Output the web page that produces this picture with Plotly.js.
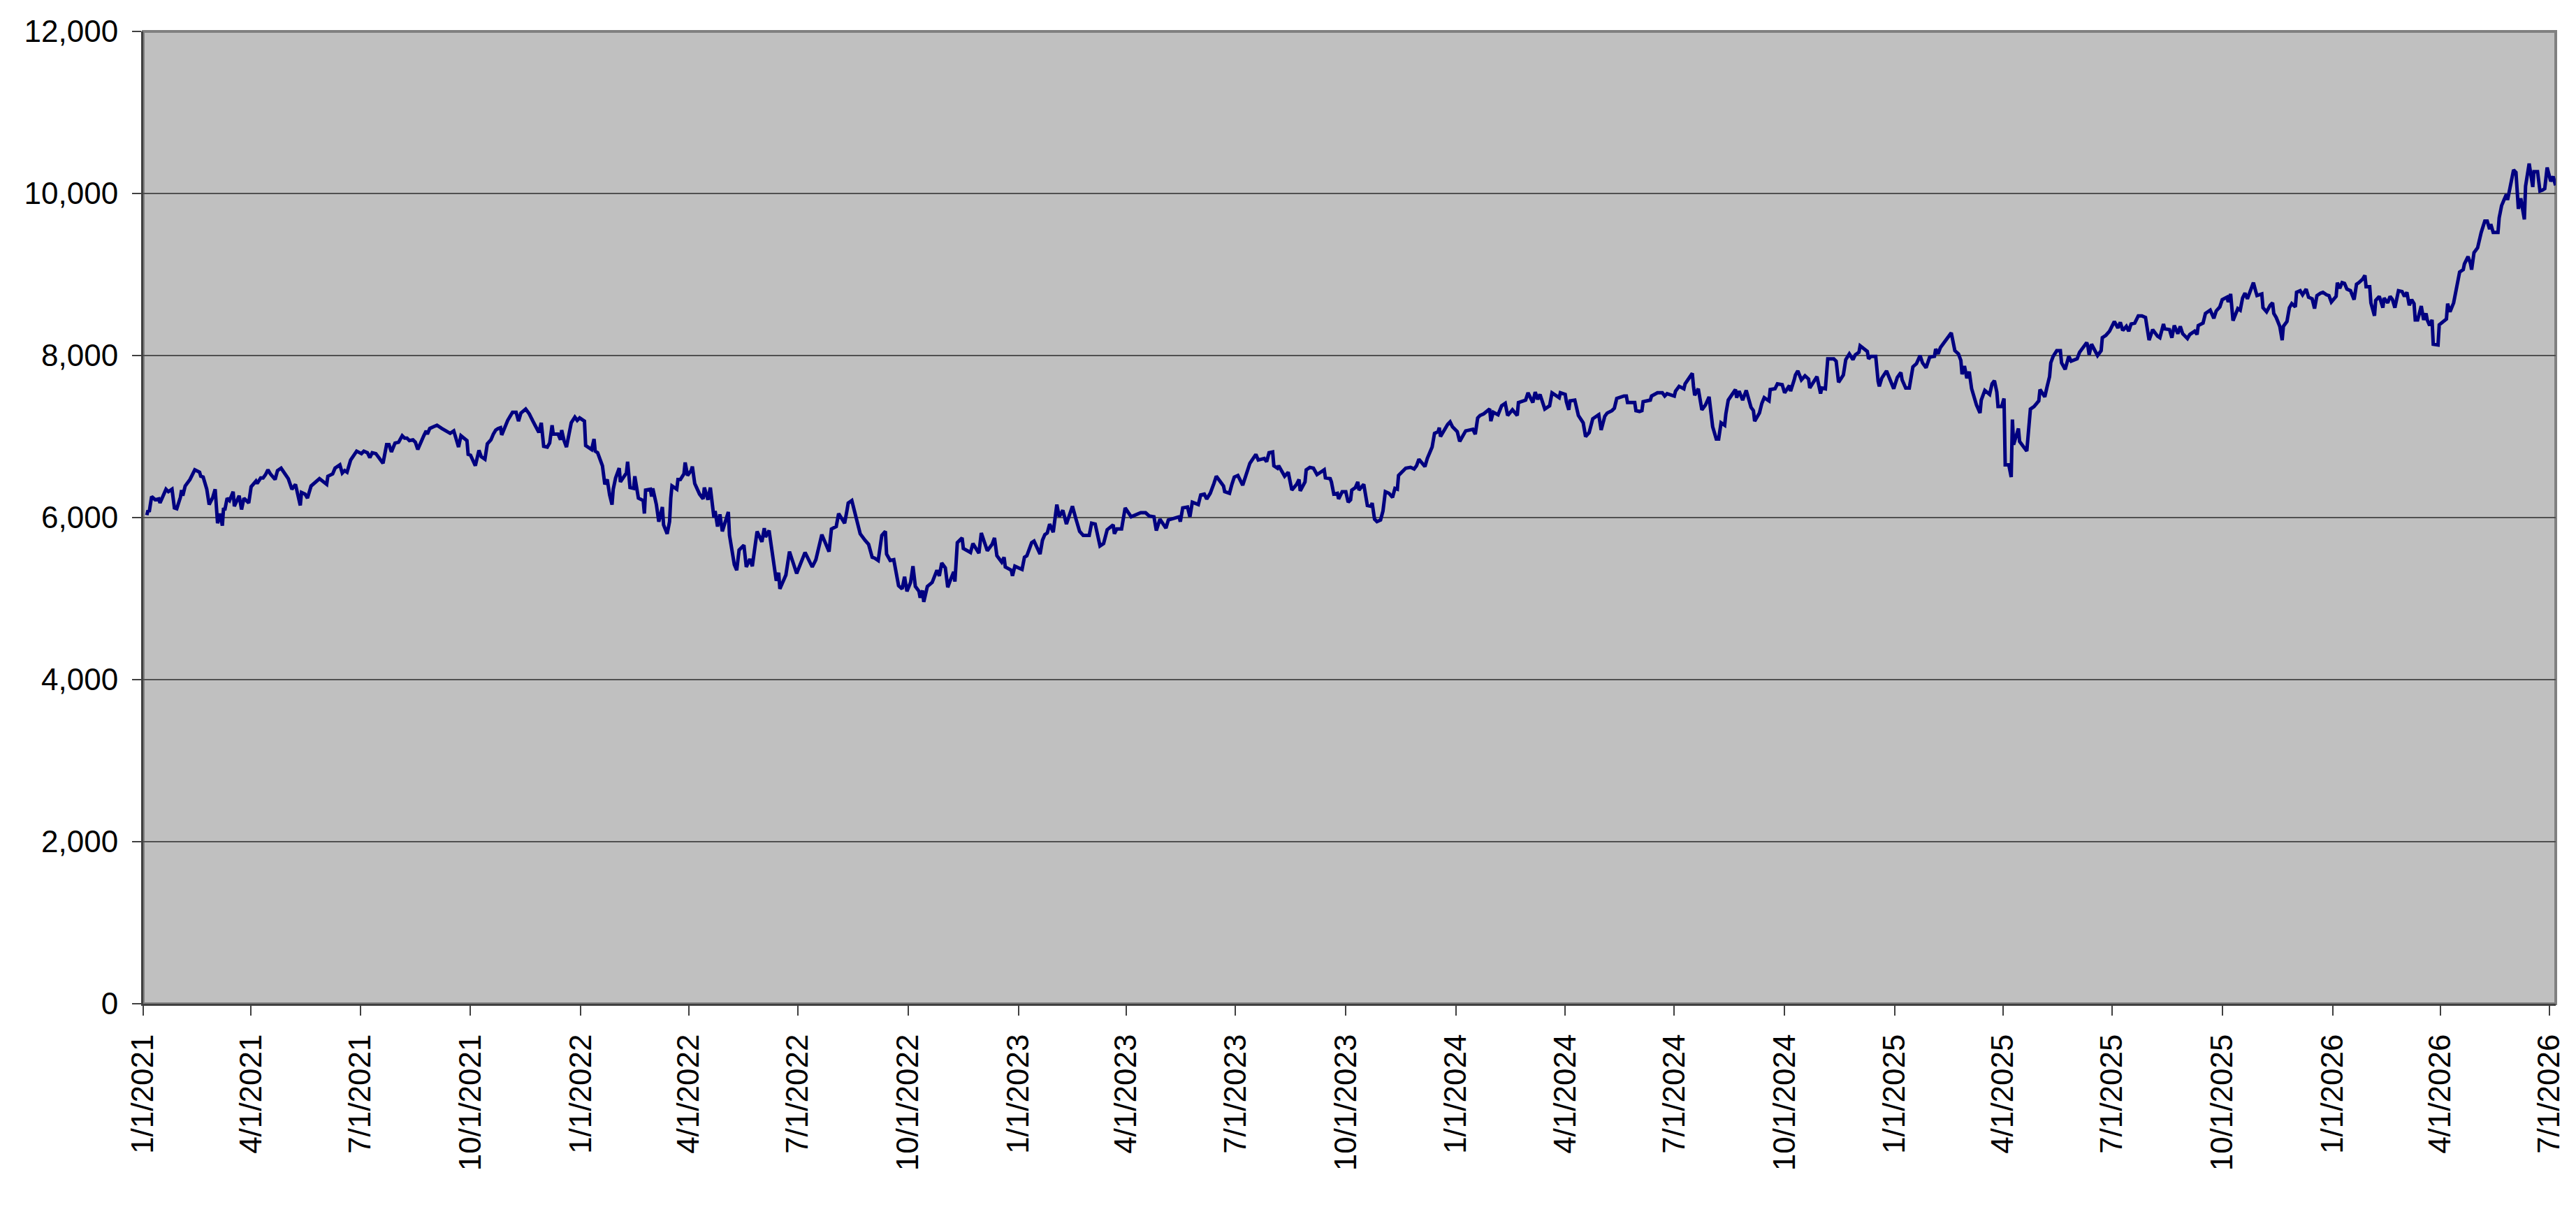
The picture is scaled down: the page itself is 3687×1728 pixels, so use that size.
<!DOCTYPE html>
<html>
<head>
<meta charset="utf-8">
<script src="https://cdn.plot.ly/plotly-3.0.1.min.js"></script>
<style>
  html, body { margin: 0; padding: 0; background: #ffffff; }
  #chart { width: 3687px; height: 1728px; }
</style>
</head>
<body>
<div id="chart"></div>
<script>
// Start date of the series; each day offset below counts calendar days from it.
const startDate = '2021-01-01';

// Segment 1 (Jan 2021 - Oct 2021)
const days1 = [3,4,5,7,10,13,14,17,19,21,24,26,28,31,32,33,35,39,43,47,48,50,53,55,58,60,62,64,66,67,68,70,72,75,76,80,82,84,88,90,94,95,98,100,102,104,106,110,112,115,118,121,124,127,131,132,135,137,140,144,147,153,154,158,160,164,166,168,170,173,178,182,184,187,189,191,194,197,200,203,205,207,210,213,216,218,220,222,225,227,229,234,236,237,239,242,245,249,254,256,259,261,263,265,270,271,273,277,280,282,285,287,290,292,294,296,298,299,301,304];
const vals1 = [6030,6090,6070,6260,6220,6230,6180,6280,6350,6320,6350,6120,6110,6250,6340,6270,6390,6470,6590,6560,6510,6500,6350,6160,6250,6350,5930,6050,5900,6120,6090,6240,6210,6320,6140,6270,6100,6240,6180,6380,6450,6420,6490,6490,6530,6590,6540,6470,6580,6610,6540,6480,6350,6410,6150,6310,6290,6240,6390,6450,6480,6410,6510,6540,6610,6650,6550,6580,6560,6710,6820,6790,6820,6800,6740,6800,6790,6730,6670,6900,6900,6810,6920,6930,7010,6980,6980,6950,6960,6930,6840,7010,7070,7030,7100,7120,7140,7100,7050,7040,7070,6950,6870,7010,6950,6780,6770,6640,6830,6750,6720,6910,6960,7030,7080,7100,7110,7020,7100,7200];

// Segment 2 (Nov 2021 - Aug 2022)
const days2 = [308,311,313,315,319,322,325,330,332,334,337,339,341,342,346,348,349,351,353,355,357,360,362,364,368,369,374,376,377,379,383,385,387,389,391,392,394,397,398,403,404,406,409,410,413,417,418,419,423,424,425,428,430,433,434,437,439,440,441,445,446,448,451,452,454,457,458,460,464,467,468,471,473,476,477,479,481,483,488,489,493,495,497,501,503,506,508,512,516,518,519,522,525,528,530,531,536,539,545,552,558,561,566,572,574,578,580,585,587,588,591,593,595,598,602,605,608];
const vals2 = [7300,7300,7190,7290,7340,7280,7190,7050,7170,6880,6870,6920,7140,7030,7030,6960,7080,6950,6870,7050,7170,7240,7200,7230,7190,6890,6840,6970,6820,6800,6640,6410,6470,6280,6160,6350,6490,6610,6440,6550,6690,6370,6360,6510,6240,6210,6050,6340,6350,6260,6360,6160,5950,6130,5910,5800,5950,6240,6390,6350,6470,6470,6540,6680,6520,6580,6630,6420,6290,6230,6370,6220,6370,6000,6080,5890,6040,5830,6070,5780,5420,5350,5600,5660,5390,5490,5400,5830,5700,5870,5760,5840,5520,5220,5320,5120,5290,5580,5310,5570,5390,5480,5790,5580,5860,5890,6050,5930,6090,6180,6210,6090,5960,5800,5720,5670,5510];

// Segment 3 (Sep 2022 - Jun 2023)
const days3 = [610,613,616,619,620,623,626,630,633,635,637,640,642,644,647,648,650,651,654,658,662,664,666,669,671,673,676,677,679,683,684,690,692,697,699,704,708,710,712,716,718,719,724,725,727,733,735,737,741,743,748,750,752,754,756,759,762,764,767,770,772,775,778,781,784,789,791,794,798,801,804,809,810,812,816,819,824,828,832,836,839,843,845,848,853,855,864,865,867,871,873,875,880,882,885,887,890,893,895,898,901,902];
const vals3 = [5500,5470,5780,5830,5550,5470,5480,5160,5120,5270,5090,5200,5400,5150,5090,5010,5100,4960,5150,5200,5350,5280,5440,5380,5140,5220,5330,5210,5690,5750,5620,5570,5680,5560,5810,5590,5670,5750,5530,5450,5510,5390,5350,5280,5400,5360,5510,5530,5690,5710,5550,5720,5790,5810,5920,5820,6160,6010,6090,5920,6010,6140,5980,5830,5780,5780,5930,5920,5650,5680,5850,5910,5800,5860,5860,6120,6010,6030,6060,6060,6020,6010,5840,5980,5870,5970,6010,5950,6120,6130,6010,6190,6160,6280,6290,6230,6300,6420,6510,6450,6390,6320];

// Segment 4 (Jun 2023 - Apr 2024)
const days4 = [906,908,910,913,917,919,923,928,930,935,937,939,942,943,946,947,950,952,955,958,962,964,965,969,970,973,976,979,984,985,986,990,991,993,996,997,1000,1003,1005,1007,1008,1011,1013,1014,1018,1021,1024,1025,1027,1029,1032,1034,1036,1039,1042,1044,1046,1047,1053,1057,1060,1062,1064,1069,1071,1075,1077,1080,1081,1082,1088,1090,1092,1096,1098,1100,1103,1109,1111,1113,1115,1118,1121,1123,1124,1126,1130,1133,1136,1138,1142,1146,1147,1153,1155,1159,1161,1163,1165,1169,1173,1175,1181,1182,1186,1187,1189,1190,1194,1196,1197,1201,1203,1206,1209];
const vals4 = [6300,6410,6500,6520,6400,6490,6670,6780,6710,6730,6690,6800,6810,6640,6610,6640,6550,6510,6560,6340,6410,6470,6330,6440,6590,6620,6610,6530,6580,6590,6490,6480,6440,6290,6300,6230,6320,6320,6190,6220,6340,6370,6440,6340,6410,6150,6140,6180,5980,5950,5970,6080,6320,6300,6250,6360,6350,6520,6610,6620,6600,6640,6720,6630,6730,6870,7040,7060,7110,7000,7150,7180,7120,7060,6940,7000,7070,7090,7030,7230,7260,7280,7310,7340,7190,7300,7270,7380,7410,7260,7330,7260,7420,7450,7540,7420,7550,7460,7520,7340,7380,7540,7480,7540,7520,7430,7330,7440,7450,7330,7260,7170,7000,7050,7220];

// Segment 5 (Apr 2024 - Feb 2025)
const days5 = [1212,1214,1216,1219,1221,1225,1227,1229,1235,1237,1238,1244,1245,1248,1250,1251,1257,1258,1263,1267,1269,1271,1277,1278,1281,1285,1286,1288,1292,1293,1294,1297,1300,1303,1306,1309,1312,1314,1316,1319,1320,1322,1324,1326,1328,1329,1331,1334,1337,1341,1343,1344,1348,1350,1352,1356,1357,1361,1363,1367,1369,1373,1374,1377,1378,1380,1383,1386,1389,1390,1393,1396,1399,1400,1403,1405,1410,1412,1414,1417,1418,1420,1423,1426,1428,1431,1432,1438,1439,1441,1445,1447,1448,1450,1454,1457,1460,1463,1466,1467,1470,1473,1475,1476,1479,1482,1484,1487,1490,1494,1495,1497,1499,1503,1505,1508,1511,1514,1516,1517];
const vals5 = [7250,7270,7080,7250,7290,7320,7350,7470,7500,7500,7420,7420,7320,7310,7320,7430,7450,7500,7540,7540,7500,7530,7500,7560,7620,7590,7650,7690,7780,7620,7510,7590,7330,7390,7490,7120,6970,6970,7170,7140,7280,7450,7500,7550,7580,7480,7560,7450,7570,7360,7320,7190,7290,7410,7480,7440,7580,7590,7650,7640,7540,7630,7560,7700,7760,7810,7700,7750,7710,7600,7680,7740,7530,7600,7590,7960,7960,7930,7670,7730,7760,7950,8020,7950,8010,8040,8120,8050,7960,7990,7990,7680,7620,7720,7810,7700,7590,7730,7790,7700,7600,7600,7760,7860,7900,8000,7910,7850,7980,7990,8080,8020,8100,8180,8230,8280,8060,8020,7940,7770];

// Segment 6 (Feb 2025 - Dec 2025)
const days6 = [1519,1521,1523,1525,1529,1532,1533,1536,1540,1542,1544,1546,1547,1550,1552,1553,1556,1558,1559,1560,1564,1565,1571,1573,1574,1577,1581,1582,1586,1588,1590,1591,1593,1596,1599,1600,1603,1606,1608,1613,1615,1621,1622,1623,1625,1630,1633,1634,1637,1640,1642,1644,1647,1649,1651,1654,1656,1658,1661,1664,1667,1670,1673,1676,1680,1682,1685,1686,1690,1692,1694,1697,1699,1701,1705,1707,1711,1713,1714,1718,1720,1724,1727,1729,1732,1734,1738,1739,1741,1743,1747,1749,1751,1753,1755,1758,1760,1762,1763,1767,1768,1771,1774,1776,1777,1779,1782,1784,1785,1788,1790,1792,1795,1796,1799,1801,1804,1806,1809,1811,1813,1816,1818,1821];
const vals6 = [7870,7720,7800,7590,7390,7290,7450,7570,7520,7650,7690,7550,7370,7370,7470,6650,6650,6500,7210,6900,7100,6940,6820,7120,7340,7370,7440,7580,7490,7620,7740,7910,7990,8060,8060,7910,7830,7990,7930,7960,8040,8160,8110,8010,8140,8000,8060,8220,8250,8300,8350,8420,8340,8410,8310,8360,8300,8390,8400,8490,8490,8470,8190,8320,8240,8220,8390,8330,8320,8220,8370,8270,8360,8270,8210,8260,8300,8260,8370,8400,8520,8560,8460,8550,8600,8690,8720,8660,8760,8430,8580,8560,8710,8770,8700,8840,8900,8790,8740,8760,8590,8540,8620,8650,8520,8470,8360,8190,8360,8420,8590,8640,8600,8780,8800,8750,8820,8720,8700,8580,8740,8770,8780,8750];

// Segment 7 (Jan 2026 - Jul 2026)
const days7 = [1823,1825,1829,1830,1832,1834,1836,1838,1841,1844,1846,1848,1851,1853,1854,1857,1858,1861,1862,1865,1868,1869,1872,1874,1876,1878,1881,1884,1886,1888,1890,1892,1894,1895,1897,1900,1902,1904,1905,1907,1909,1910,1914,1915,1918,1921,1922,1924,1927,1929,1932,1935,1936,1939,1941,1942,1944,1947,1950,1953,1955,1957,1958,1960,1964,1965,1967,1969,1971,1972,1974,1977,1979,1981,1983,1986,1987,1990,1993,1994,1997,1999,2001,2003,2005,2008,2010,2012];
const vals7 = [8740,8660,8730,8900,8830,8900,8890,8820,8800,8690,8880,8900,8940,8990,8850,8850,8650,8490,8680,8730,8590,8710,8650,8730,8690,8590,8800,8790,8730,8780,8620,8690,8640,8440,8440,8610,8440,8520,8440,8370,8440,8140,8130,8380,8410,8450,8640,8540,8650,8820,9030,9060,9130,9220,9140,9060,9270,9330,9520,9660,9660,9560,9620,9520,9520,9700,9850,9920,9990,9920,10090,10290,10260,9810,9940,9680,10090,10370,10080,10270,10270,10030,10040,10060,10320,10150,10210,10100];

// Axis settings (values, not positions)
const yTickStep = 2000;
const yMax = 12000;
const xRangeEnd = '2026-07-06 04:00';

const allDays = [].concat(days1, days2, days3, days4, days5, days6, days7);
const allVals = [].concat(vals1, vals2, vals3, vals4, vals5, vals6, vals7);
const t0 = Date.parse(startDate + 'T00:00:00Z');
const xDates = allDays.map(d => new Date(t0 + d * 86400000).toISOString().slice(0, 10));

const FONT = 'Liberation Sans, Arial, sans-serif';

const trace = {
  type: 'scatter',
  mode: 'lines',
  x: xDates,
  y: allVals,
  line: { color: '#000080', width: 5, shape: 'linear' },
  hoverinfo: 'skip'
};

const layout = {
  width: 3687,
  height: 1728,
  margin: { l: 205, r: 29, t: 45, b: 291, pad: 0 },
  paper_bgcolor: '#ffffff',
  plot_bgcolor: '#C0C0C0',
  showlegend: false,
  font: { family: FONT, size: 44, color: '#000000' },
  xaxis: {
    type: 'date',
    range: [startDate, xRangeEnd],
    tickmode: 'linear',
    tick0: startDate,
    dtick: 'M3',
    tickformat: '%-m/%-d/%Y',
    tickangle: -90,
    ticks: 'outside',
    ticklen: 14,
    tickwidth: 2,
    tickcolor: '#404040',
    ticklabelstandoff: 9,
    showgrid: false,
    zeroline: false,
    showline: true,
    linecolor: '#404040',
    linewidth: 3,
    tickfont: { family: FONT, size: 44, color: '#000000' },
    automargin: false
  },
  yaxis: {
    range: [0, yMax],
    tickmode: 'linear',
    tick0: 0,
    dtick: yTickStep,
    tickformat: ',d',
    ticks: 'outside',
    ticklen: 13,
    tickwidth: 2,
    tickcolor: '#404040',
    ticklabelstandoff: 11,
    showgrid: true,
    gridcolor: '#505050',
    gridwidth: 1.5,
    zeroline: false,
    showline: true,
    linecolor: '#404040',
    linewidth: 3,
    tickfont: { family: FONT, size: 44, color: '#000000' },
    automargin: false
  },
  shapes: [{
    type: 'rect', xref: 'paper', yref: 'paper',
    x0: 0, x1: 1, y0: 0, y1: 1,
    line: { color: '#808080', width: 4 },
    layer: 'below'
  }]
};

Plotly.newPlot('chart', [trace], layout, { staticPlot: true, displayModeBar: false });
</script>
</body>
</html>
